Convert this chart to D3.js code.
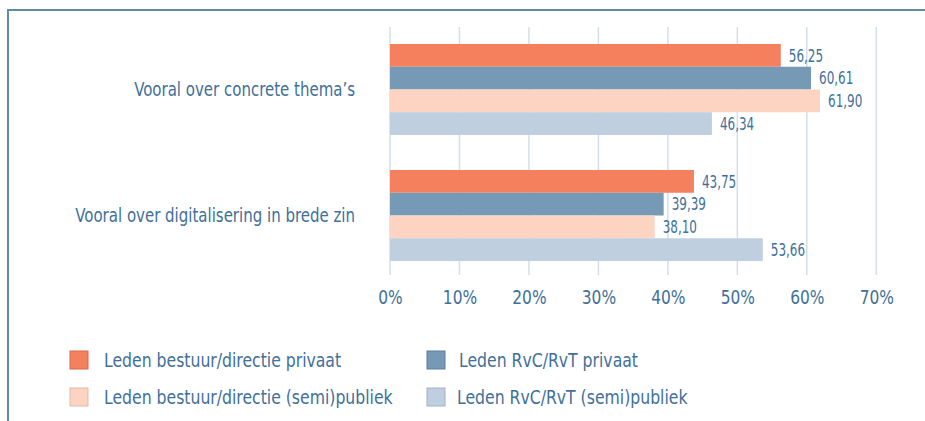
<!DOCTYPE html>
<html>
<head>
<meta charset="utf-8">
<script src="https://cdn.jsdelivr.net/npm/d3@7/dist/d3.min.js"></script>
<style>
  html, body { margin: 0; padding: 0; background: #fff; }
  svg { display: block; }
  text { font-family: "DejaVu Sans Condensed", "DejaVu Sans", sans-serif; font-stretch: condensed; fill: #41709a; }
</style>
</head>
<body>
<svg id="chart" width="925" height="421"></svg>
<script>
var categories = ['Vooral over concrete thema\u2019s', 'Vooral over digitalisering in brede zin']
var seriesNames = [
  'Leden bestuur/directie privaat',
  'Leden RvC/RvT privaat',
  'Leden bestuur/directie (semi)publiek',
  'Leden RvC/RvT (semi)publiek'
]
var concreteValues = [56.25, 60.61, 61.90, 46.34]
var digitalValues = [43.75, 39.39, 38.10, 53.66]
var tickValues = [0, 10, 20, 30, 40, 50, 60, 70]

var colors = ['#f4805d', '#7699b5', '#fdd4c2', '#bfcfdf']
var strokes = ['#d9684a', '#5a7f9c', '#e6b7a5', '#9fb3c6']

var svg = d3.select('#chart')

// squeeze text sideways, the original uses a narrow face
function narrow(sel, x, y, sx) {
  sel.attr('x', 0).attr('y', 0)
    .attr('transform', function(d, i) {
      var px = typeof x === 'function' ? x(d, i) : x
      var py = typeof y === 'function' ? y(d, i) : y
      return 'translate(' + px + ',' + py + ') scale(' + sx + ',1)'
    })
}

// frame
svg.append('path')
  .attr('d', 'M8,421 L8,10 L925,10')
  .attr('fill', 'none')
  .attr('stroke', '#5f8aa8')
  .attr('stroke-width', 2)

var x = d3.scaleLinear().domain([0, 70]).range([390, 876.3])
var yGroup = d3.scaleBand().domain(categories).range([44, 261]).paddingInner(0.278)
var yBar = d3.scaleBand().domain(d3.range(4)).range([0, yGroup.bandwidth()])

// grid
svg.append('g').selectAll('line').data(tickValues).enter()
  .append('line')
  .attr('x1', function(d) { return x(d) }).attr('x2', function(d) { return x(d) })
  .attr('y1', 27).attr('y2', 275)
  .attr('stroke', '#d3deea')
  .attr('stroke-width', 1.5)

// x axis labels
var xAxis = d3.axisBottom(x).tickValues(tickValues).tickSize(0).tickPadding(0)
  .tickFormat(function(d) { return d + '%' })
svg.append('g')
  .attr('transform', 'translate(0,297)')
  .call(xAxis)
  .call(function(g) {
    g.select('.domain').remove()
    g.selectAll('text').attr('fill', '#41709a').attr('font-size', 19.5)
      .attr('dy', '0.35em').attr('y', 0)
      .attr('transform', 'scale(0.88,1)')
  })

var data = [concreteValues, digitalValues]

var groups = svg.selectAll('g.group').data(categories).enter()
  .append('g')
  .attr('class', 'group')
  .attr('transform', function(d) { return 'translate(0,' + yGroup(d) + ')' })

groups.append('text')
  .attr('dy', '0.35em')
  .attr('text-anchor', 'end')
  .attr('font-size', 19)
  .text(function(d) { return d })
  .call(narrow, 355, yGroup.bandwidth() / 2, 0.878)

groups.each(function(cat, gi) {
  var g = d3.select(this)
  var vals = data[gi]
  g.selectAll('rect').data(vals).enter()
    .append('rect')
    .attr('x', x(0))
    .attr('y', function(d, i) { return yBar(i) })
    .attr('width', function(d) { return x(d) - x(0) })
    .attr('height', yBar.bandwidth())
    .attr('fill', function(d, i) { return colors[i] })

  g.selectAll('text.val').data(vals).enter()
    .append('text')
    .attr('class', 'val')
    .attr('dy', '0.35em')
    .attr('font-size', 18)
    .text(function(d) { return d.toFixed(2).replace('.', ',') })
    .call(narrow, function(d) { return x(d) + 8 },
      function(d, i) { return yBar(i) + yBar.bandwidth() / 2 }, 0.74)
})

// legend
var legendPos = [
  {sx: 70, tx: 104, y: 351},
  {sx: 427, tx: 459, y: 351},
  {sx: 70, tx: 104, y: 388},
  {sx: 427, tx: 457, y: 388}
]
var legend = svg.selectAll('g.legend').data(seriesNames).enter()
  .append('g')
  .attr('class', 'legend')

legend.append('rect')
  .attr('x', function(d, i) { return legendPos[i].sx })
  .attr('y', function(d, i) { return legendPos[i].y })
  .attr('width', 18).attr('height', 18)
  .attr('fill', function(d, i) { return colors[i] })
  .attr('stroke', function(d, i) { return strokes[i] })
  .attr('stroke-width', 1)

legend.append('text')
  .attr('dy', '0.35em')
  .attr('font-size', 19)
  .text(function(d) { return d })
  .call(narrow, function(d, i) { return legendPos[i].tx },
    function(d, i) { return legendPos[i].y + 9 }, 0.917)
</script>
</body>
</html>
